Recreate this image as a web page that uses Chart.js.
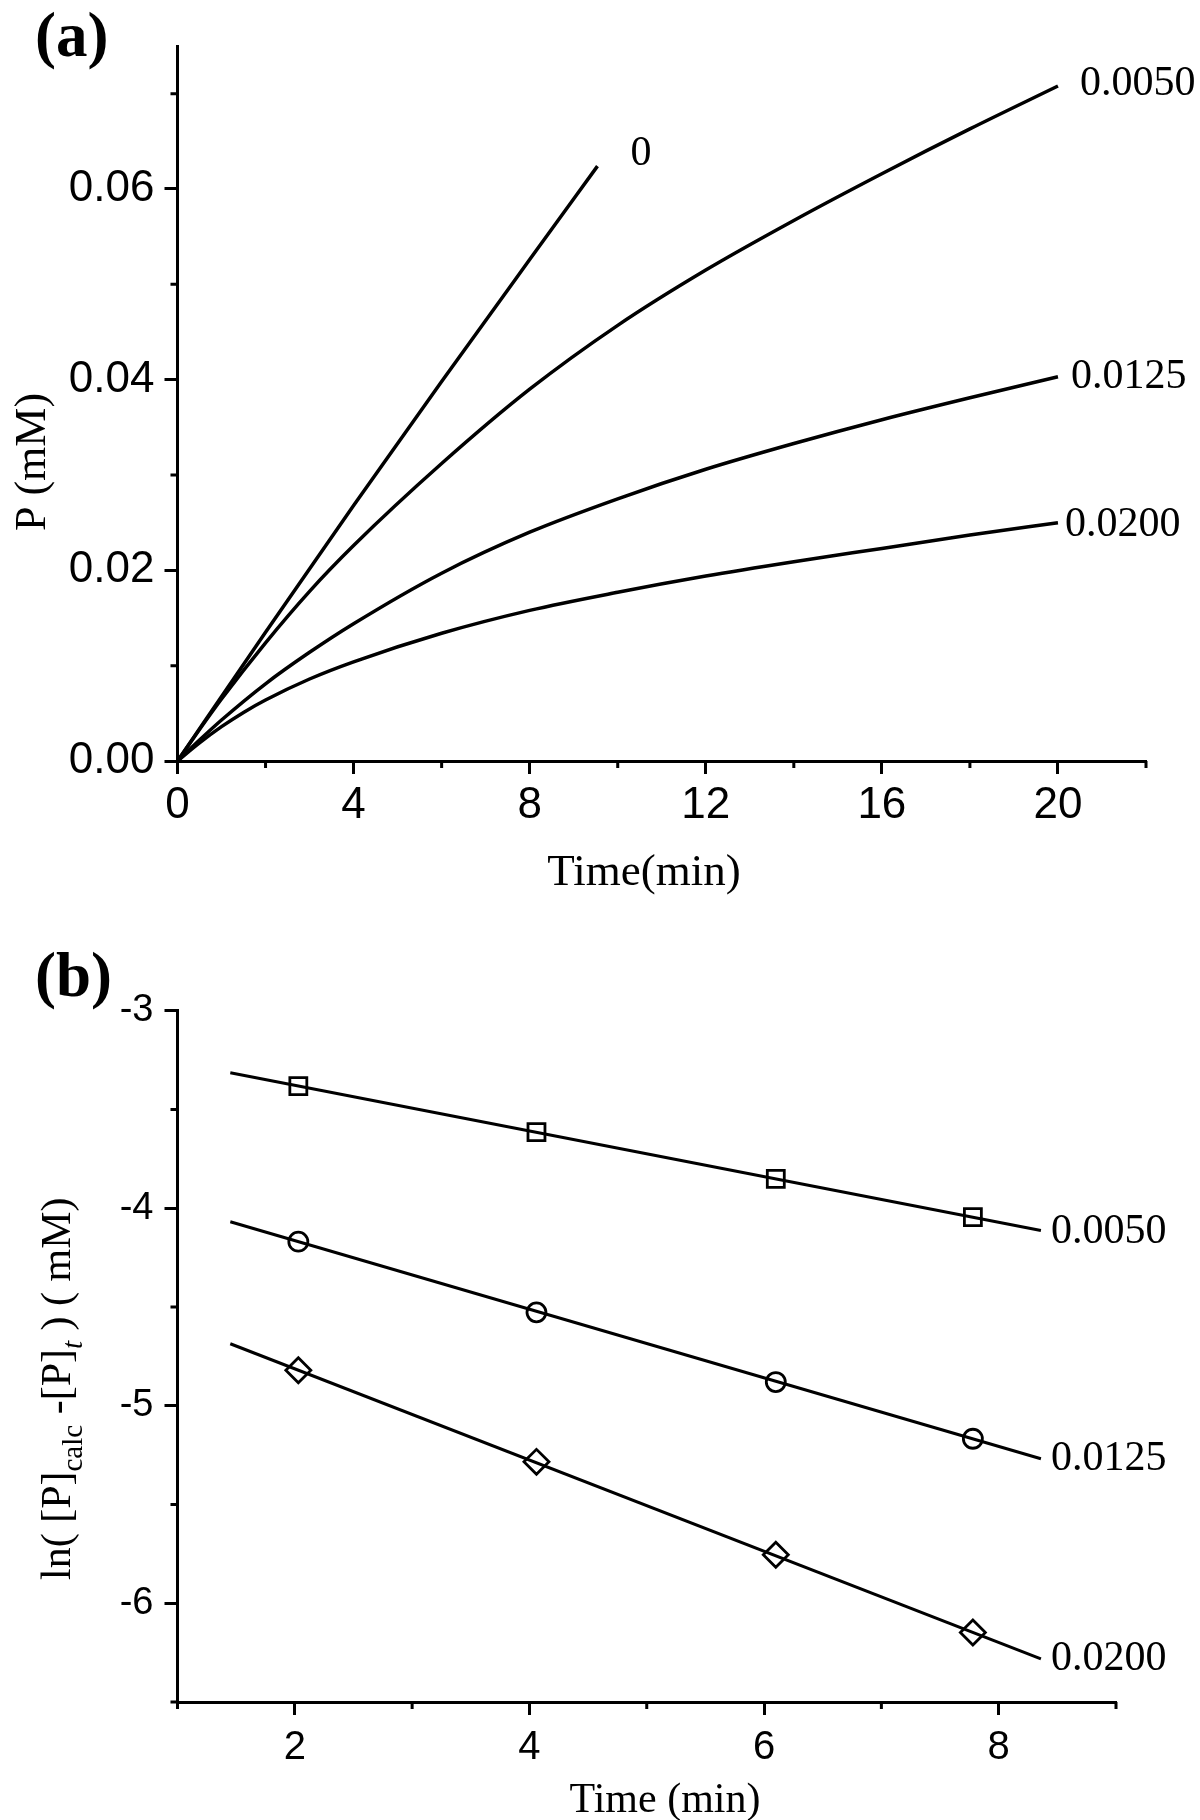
<!DOCTYPE html>
<html><head><meta charset="utf-8">
<script src="https://cdn.jsdelivr.net/npm/chart.js@4.4.1/dist/chart.umd.min.js"></script>
<style>
html,body{margin:0;padding:0;background:#fff;width:1200px;height:1820px;overflow:hidden}
canvas{position:absolute;left:0}
#ca{top:0}
#cb{top:920px}
</style></head><body>
<canvas id="ca" width="1200" height="920"></canvas>
<canvas id="cb" width="1200" height="900"></canvas>
<script>
// ---------- Panel (a) data ----------
const seriesNamesA = ['0', '0.0050', '0.0125', '0.0200'];
const time0 = [0, 2, 4, 6, 8, 9.54];
const p0 = [0, 0.0135, 0.0268, 0.0398, 0.0526, 0.0624];
const time0050 = [0, 0.5, 1, 2, 3, 4, 6, 8, 10, 12, 14, 16, 18, 20];
const p0050 = [0, 0.0033, 0.0065, 0.0124, 0.0178, 0.0226, 0.0312, 0.0390, 0.0457, 0.0515, 0.0567, 0.0616, 0.0663, 0.0708];
const time0125 = [0, 0.5, 1, 2, 3, 4, 6, 8, 10, 12, 14, 16, 18, 20];
const p0125 = [0, 0.0022, 0.0043, 0.0081, 0.0114, 0.0144, 0.0197, 0.0240, 0.0275, 0.0306, 0.0333, 0.0358, 0.0381, 0.0403];
const time0200 = [0, 0.5, 1, 1.5, 2, 3, 4, 6, 8, 10, 12, 14, 16, 18, 20];
const p0200 = [0, 0.0019, 0.0036, 0.0051, 0.0064, 0.0086, 0.0104, 0.0134, 0.0158, 0.0177, 0.0194, 0.0209, 0.0223, 0.0237, 0.0250];
const xTicksA = [0, 4, 8, 12, 16, 20];
const xMinorA = [2, 6, 10, 14, 18, 22];
const yTicksA = [0, 0.02, 0.04, 0.06];
const yMinorA = [0.01, 0.03, 0.05, 0.07];

// ---------- Panel (b) data ----------
const seriesNamesB = ['0.0050', '0.0125', '0.0200'];
const timeB = [2.03, 4.06, 6.10, 7.78];
const lnB0050 = [-3.381, -3.614, -3.851, -4.045];
const lnB0125 = [-4.169, -4.527, -4.880, -5.167];
const lnB0200 = [-4.820, -5.284, -5.754, -6.148];
const fitTime = [1.45, 8.36];
const fit0050 = [-3.314, -4.112];
const fit0125 = [-4.068, -5.268];
const fit0200 = [-4.686, -6.282];
const xTicksB = [2, 4, 6, 8];
const xMinorB = [1, 3, 5, 7, 9];
const yTicksB = [-3, -4, -5, -6];
const yMinorB = [-3.5, -4.5, -5.5, -6.5];

// ---------- styling ----------
Chart.defaults.font.family = '"Liberation Sans", Arial, sans-serif';
Chart.defaults.color = '#000';
const SERIF = '"Liberation Serif", "Times New Roman", serif';
const pts = (xs, ys) => xs.map((x, i) => ({x: x, y: ys[i]}));

const decor = {
  id: 'decor',
  afterDraw(chart, args, opts) {
    const ctx = chart.ctx;
    const xs = chart.scales.x, ys = chart.scales.y;
    ctx.save();
    ctx.strokeStyle = '#000';
    ctx.lineWidth = 3;
    ctx.beginPath();
    opts.minorX.forEach(v => { const p = xs.getPixelForValue(v); ctx.moveTo(p, xs.top); ctx.lineTo(p, xs.top + opts.minorLen); });
    opts.minorY.forEach(v => { const p = ys.getPixelForValue(v); ctx.moveTo(ys.right, p); ctx.lineTo(ys.right - opts.minorLen, p); });
    ctx.stroke();
    ctx.fillStyle = '#000';
    opts.extra(chart, ctx);
    ctx.restore();
  }
};

function axes(o) {
  return {
    x: {
      type: 'linear', position: 'bottom', min: o.xmin, max: o.xmax,
      afterBuildTicks: s => { s.ticks = o.xticks.map(v => ({value: v})); },
      afterFit: s => { s.height = o.xh; },
      ticks: { font: {size: o.xfs, lineHeight: 1}, color: '#000', padding: o.xpad, maxRotation: 0, autoSkip: false, callback: v => String(v) },
      grid: { display: true, drawOnChartArea: false, drawTicks: true, tickLength: 13, tickWidth: 3, tickColor: '#000' },
      border: { display: true, width: 3, color: '#000' }
    },
    y: {
      type: 'linear', position: 'left', min: o.ymin, max: o.ymax,
      afterBuildTicks: s => { s.ticks = o.yticks.map(v => ({value: v})); },
      afterFit: s => { s.width = 177.5; },
      ticks: { font: {size: o.yfs, lineHeight: 1}, color: '#000', padding: o.ypad, autoSkip: false, callback: o.yfmt },
      grid: { display: true, drawOnChartArea: false, drawTicks: true, tickLength: 13, tickWidth: 3, tickColor: '#000' },
      border: { display: true, width: 3, color: '#000' }
    }
  };
}

// ---------- Chart (a) ----------
const labelOffsetsA = [[33, -12], [22, -2], [13, 0], [7, 2]];
const lineA = (data) => ({ data: data, borderColor: '#000', borderWidth: 3.5, pointRadius: 0, fill: false, cubicInterpolationMode: 'monotone' });
new Chart(document.getElementById('ca'), {
  type: 'line',
  data: { datasets: [
    lineA(pts(time0, p0)),
    lineA(pts(time0050, p0050)),
    lineA(pts(time0125, p0125)),
    lineA(pts(time0200, p0200))
  ]},
  options: {
    responsive: false, animation: false, devicePixelRatio: 1,
    layout: { padding: { left: 0, top: 46, right: 54, bottom: 0 } },
    scales: axes({ xmin: 0, xmax: 22, xticks: xTicksA, xh: 920 - 761, xfs: 44, xpad: 10,
                   ymin: 0, ymax: 0.075, yticks: yTicksA, yfs: 44, ypad: 10, yfmt: v => Number(v).toFixed(2) }),
    plugins: {
      legend: { display: false }, tooltip: { enabled: false },
      decor: {
        minorX: xMinorA, minorY: yMinorA, minorLen: 7,
        extra: (chart, ctx) => {
          const xs = chart.scales.x, ys = chart.scales.y;
          ctx.textAlign = 'left'; ctx.textBaseline = 'alphabetic';
          ctx.font = 'bold 63px ' + SERIF;
          ctx.fillText('(a)', 35, 56);
          ctx.font = '45px ' + SERIF;
          ctx.textAlign = 'center';
          ctx.fillText('Time(min)', 644, 885);
          ctx.save(); ctx.translate(45, 462); ctx.rotate(-Math.PI / 2);
          ctx.font = '44px ' + SERIF; ctx.fillText('P (mM)', 0, 0); ctx.restore();
          ctx.font = '42px ' + SERIF; ctx.textAlign = 'left'; ctx.textBaseline = 'middle';
          chart.data.datasets.forEach((ds, i) => {
            const last = ds.data[ds.data.length - 1];
            ctx.fillText(seriesNamesA[i], xs.getPixelForValue(last.x) + labelOffsetsA[i][0], ys.getPixelForValue(last.y) + labelOffsetsA[i][1]);
          });
        }
      }
    }
  },
  plugins: [decor]
});

// ---------- Chart (b) ----------
const fitLine = (data) => ({ type: 'line', data: data, borderColor: '#000', borderWidth: 3, pointRadius: 0, fill: false });
const marks = (data, style, r) => ({ type: 'scatter', data: data, showLine: false, pointStyle: style, pointRadius: r, pointBorderWidth: 2.8, borderColor: '#000', backgroundColor: 'rgba(0,0,0,0)', pointBackgroundColor: 'rgba(0,0,0,0)' });
const labelOffsetsB = [[10, 2], [10, 0], [10, 0]];
new Chart(document.getElementById('cb'), {
  type: 'line',
  data: { datasets: [
    fitLine(pts(fitTime, fit0050)),
    fitLine(pts(fitTime, fit0125)),
    fitLine(pts(fitTime, fit0200)),
    marks(pts(timeB, lnB0050), 'rect', 12),
    marks(pts(timeB, lnB0125), 'circle', 9.5),
    marks(pts(timeB, lnB0200), 'rectRot', 12.5)
  ]},
  options: {
    responsive: false, animation: false, devicePixelRatio: 1,
    layout: { padding: { left: 0, top: 90.8, right: 84, bottom: 0 } },
    scales: axes({ xmin: 1, xmax: 9, xticks: xTicksB, xh: 900 - 782, xfs: 40, xpad: 13,
                   ymin: -6.5, ymax: -3, yticks: yTicksB, yfs: 38, ypad: 11, yfmt: v => String(v) }),
    plugins: {
      legend: { display: false }, tooltip: { enabled: false },
      decor: {
        minorX: xMinorB, minorY: yMinorB, minorLen: 7,
        extra: (chart, ctx) => {
          const xs = chart.scales.x, ys = chart.scales.y;
          ctx.textAlign = 'left'; ctx.textBaseline = 'alphabetic';
          ctx.font = 'bold 63px ' + SERIF;
          ctx.fillText('(b)', 35, 76);
          ctx.font = '42px ' + SERIF;
          ctx.textAlign = 'center';
          ctx.fillText('Time (min)', 665, 892);
          // rotated y title with subscripts
          ctx.save(); ctx.translate(70, 660); ctx.rotate(-Math.PI / 2);
          ctx.textAlign = 'left';
          const segs = [
            { t: 'ln( [P]', f: '42px ' + SERIF, dy: 0 },
            { t: 'calc', f: '29px ' + SERIF, dy: 12 },
            { t: ' -[P]', f: '42px ' + SERIF, dy: 0 },
            { t: 't', f: 'italic 29px ' + SERIF, dy: 12 },
            { t: ' ) ( mM)', f: '42px ' + SERIF, dy: 0 }
          ];
          let cx = 0;
          segs.forEach(s => { ctx.font = s.f; ctx.fillText(s.t, cx, s.dy); cx += ctx.measureText(s.t).width; });
          ctx.restore();
          ctx.font = '42px ' + SERIF; ctx.textAlign = 'left'; ctx.textBaseline = 'middle';
          for (let i = 0; i < 3; i++) {
            const ds = chart.data.datasets[i];
            const last = ds.data[ds.data.length - 1];
            ctx.fillText(seriesNamesB[i], xs.getPixelForValue(last.x) + labelOffsetsB[i][0], ys.getPixelForValue(last.y) + labelOffsetsB[i][1]);
          }
        }
      }
    }
  },
  plugins: [decor]
});
</script>
</body></html>
